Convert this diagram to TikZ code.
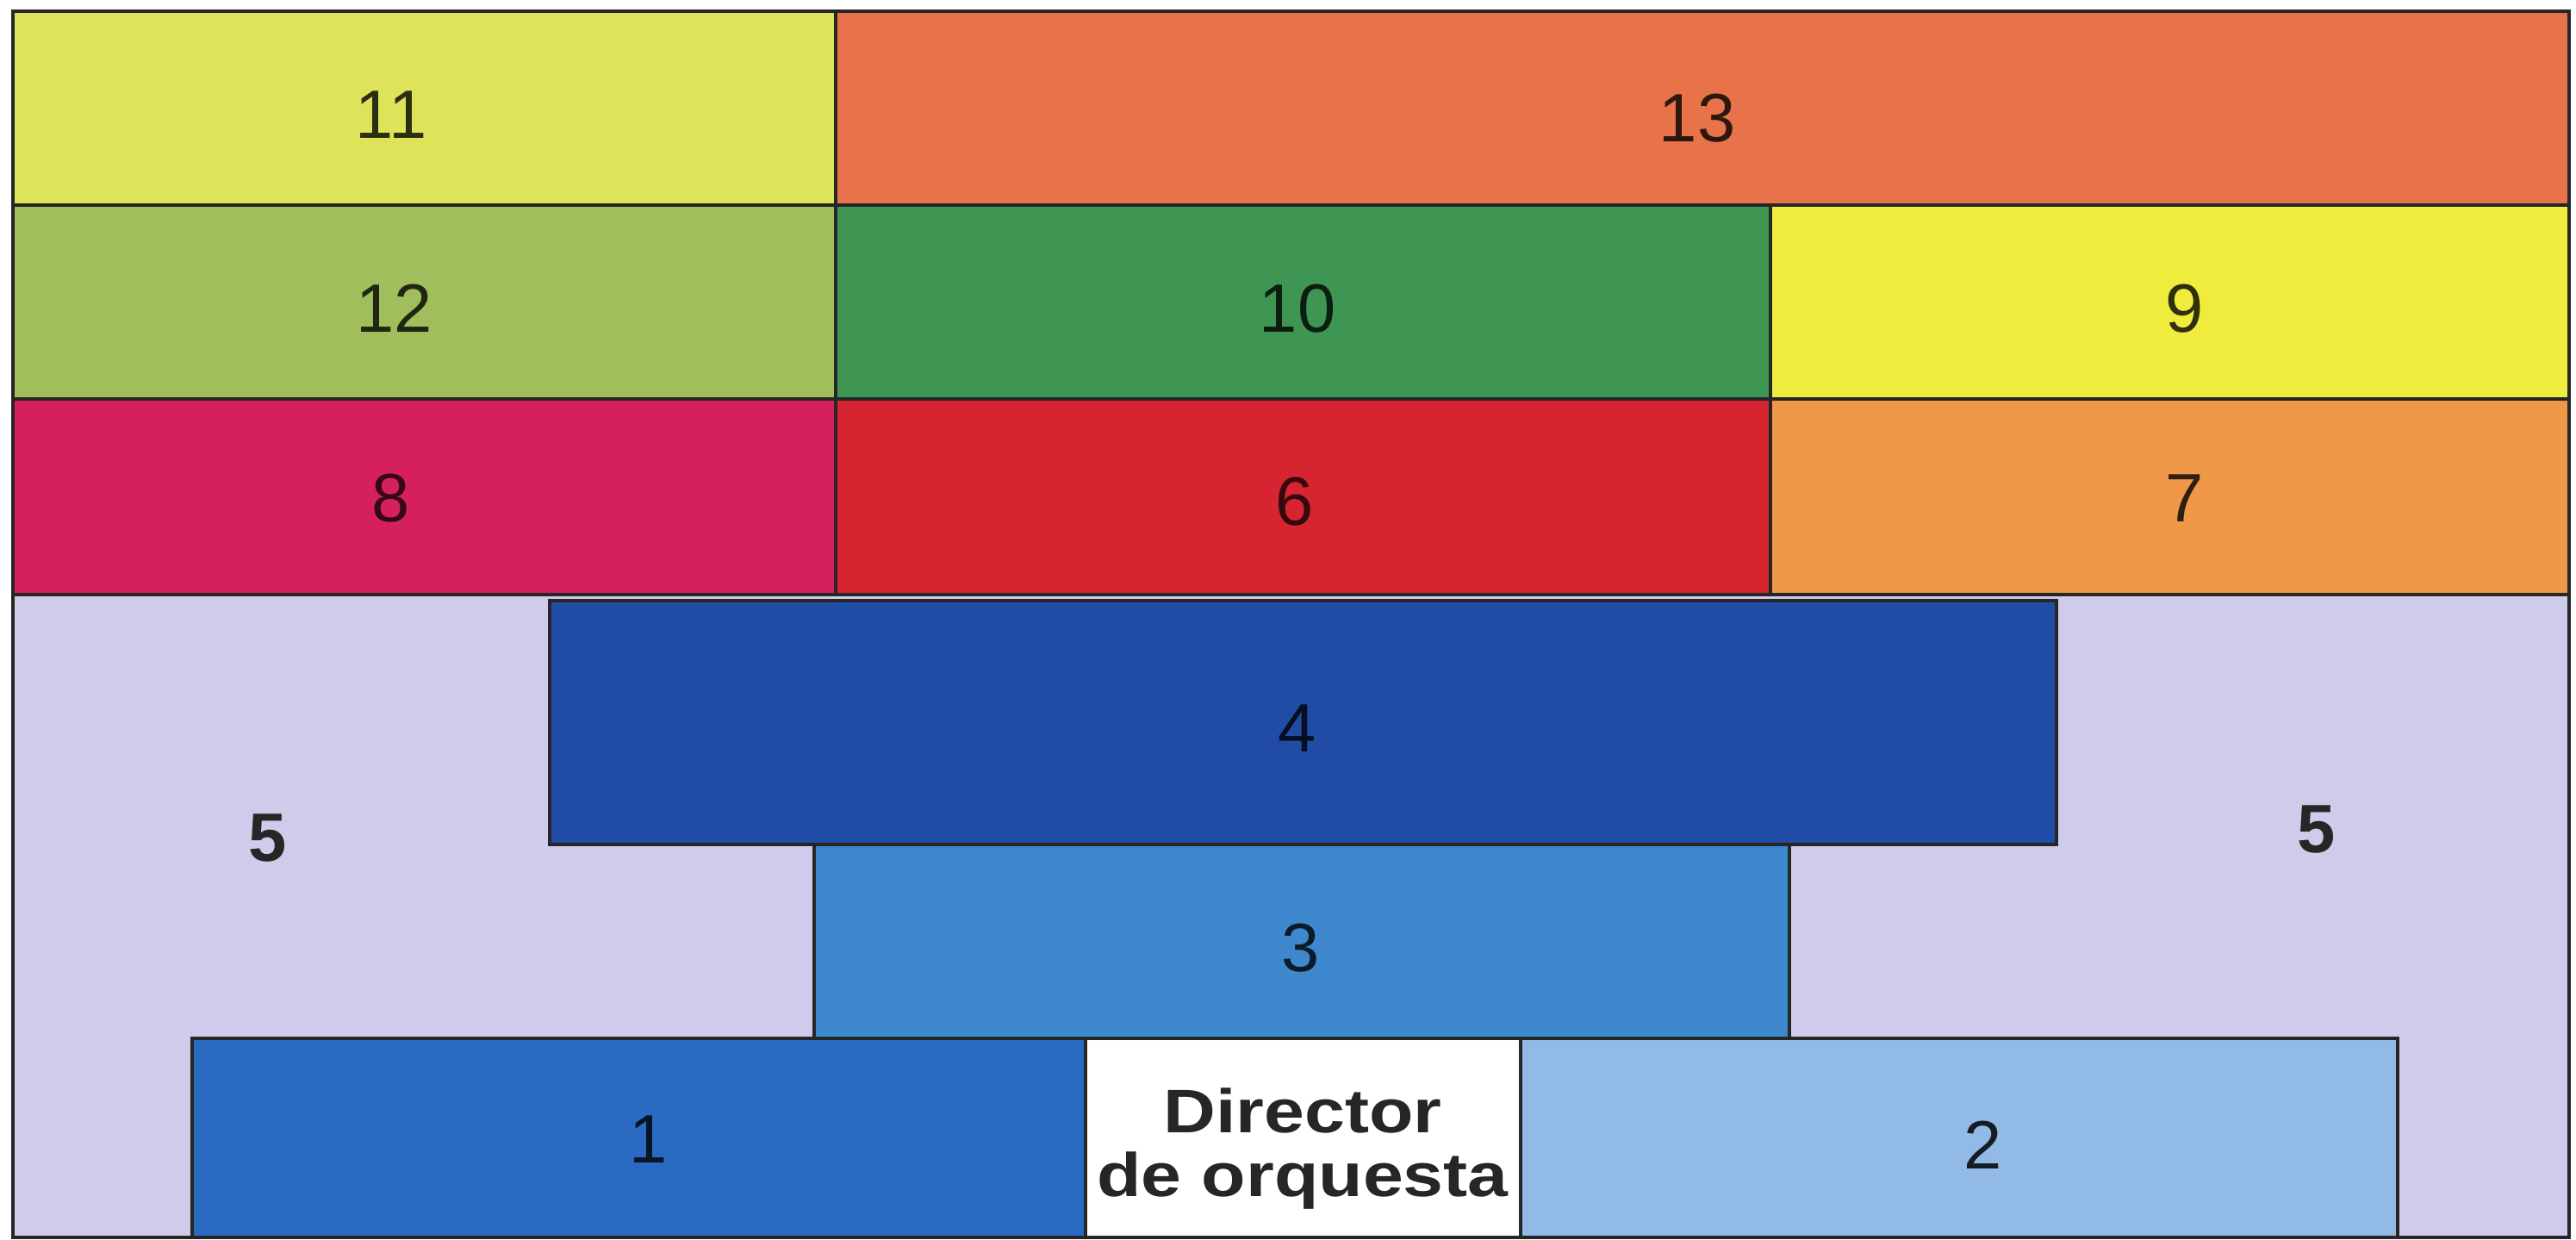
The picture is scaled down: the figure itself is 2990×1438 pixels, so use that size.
\documentclass[tikz,border=0pt]{standalone}
\usepackage{fontspec}
\setmainfont{Liberation Sans}
\newfontfamily\dirfont[FakeStretch=1.18]{Liberation Sans}
\definecolor{cOnce}{RGB}{222,228,90}
\definecolor{cTrece}{RGB}{232,114,74}
\definecolor{cDoce}{RGB}{160,190,92}
\definecolor{cDiez}{RGB}{62,150,82}
\definecolor{cNueve}{RGB}{240,236,62}
\definecolor{cOcho}{RGB}{214,32,92}
\definecolor{cSeis}{RGB}{214,36,48}
\definecolor{cSiete}{RGB}{238,152,72}
\definecolor{cCinco}{RGB}{206,204,234}
\definecolor{cCuatro}{RGB}{32,76,166}
\definecolor{cTres}{RGB}{62,136,206}
\definecolor{cUno}{RGB}{42,106,194}
\definecolor{cDos}{RGB}{146,186,230}
\begin{document}
\begin{tikzpicture}[x=0.01cm,y=-0.01cm,
  seccion/.style={draw=black!85,line width=1.1pt},
  numero/.style={font=\fontsize{22.6}{26}\selectfont,inner sep=0pt}]
\useasboundingbox (0,0) rectangle (2990,1438);
\filldraw[seccion,fill=cCinco] (15,690) rectangle (2982,1436);
\filldraw[seccion,fill=cOnce] (15,13) rectangle (970,238);
\filldraw[seccion,fill=cTrece] (970,13) rectangle (2982,238);
\filldraw[seccion,fill=cDoce] (15,238) rectangle (970,463);
\filldraw[seccion,fill=cDiez] (970,238) rectangle (2055,463);
\filldraw[seccion,fill=cNueve] (2055,238) rectangle (2982,463);
\filldraw[seccion,fill=cOcho] (15,463) rectangle (970,690);
\filldraw[seccion,fill=cSeis] (970,463) rectangle (2055,690);
\filldraw[seccion,fill=cSiete] (2055,463) rectangle (2982,690);
\filldraw[seccion,fill=cCuatro] (638,697) rectangle (2387,980);
\filldraw[seccion,fill=cTres] (945,980) rectangle (2077,1205);
\filldraw[seccion,fill=cUno] (223,1205) rectangle (1260,1436);
\filldraw[seccion,fill=white] (1260,1205) rectangle (1765,1436);
\filldraw[seccion,fill=cDos] (1765,1205) rectangle (2783,1436);
\node[numero,text=black!80!cOnce] (n11) at (454,133) {11};
\node[numero,text=black!80!cTrece] (n13) at (1970,137) {13};
\node[numero,text=black!80!cDoce] (n12) at (458,358) {12};
\node[numero,text=black!80!cDiez] (n10) at (1506,358) {10};
\node[numero,text=black!80!cNueve] (n9) at (2536,358) {9};
\node[numero,text=black!75!cOcho] (n8) at (454,578) {8};
\node[numero,text=black!75!cSeis] (n6) at (1503,582) {6};
\node[numero,text=black!80!cSiete] (n7) at (2536,578) {7};
\node[numero,text=black!80!cCuatro] (n4) at (1506,845) {4};
\node[numero,font=\fontsize{22.6}{26}\selectfont\bfseries,text=black!85] (n5a) at (311,973) {5};
\node[numero,font=\fontsize{22.6}{26}\selectfont\bfseries,text=black!85] (n5b) at (2689,963) {5};
\node[numero,text=black!80!cTres] (n3) at (1510,1100) {3};
\node[numero,text=black!80!cUno] (n1) at (753,1322) {1};
\node[numero,text=black!85!cDos] (n2) at (2302,1329) {2};
\node[align=center,inner sep=0pt,text=black!85,
  font=\dirfont\bfseries\fontsize{20.3}{21.2}\selectfont] (dir) at (1512,1333)
  {Director\\de orquesta};
\end{tikzpicture}
\end{document}
